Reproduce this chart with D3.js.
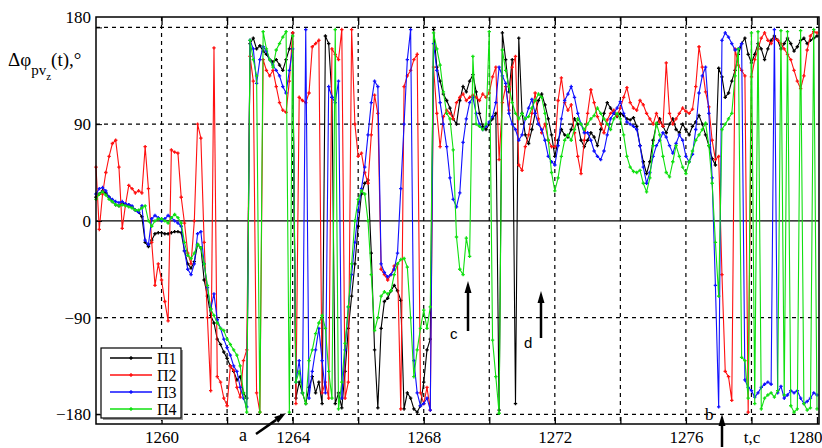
<!DOCTYPE html>
<html>
<head>
<meta charset="utf-8">
<script src="https://cdnjs.cloudflare.com/ajax/libs/d3/7.8.5/d3.min.js"></script>
<style>
  body { margin: 0; background: #fff; }
  svg { display: block; }
  .serif { font-family: "Liberation Serif", "DejaVu Serif", serif; }
  .sans { font-family: "Liberation Sans", Arial, sans-serif; }
</style>
</head>
<body>
<svg width="822" height="448"></svg>
<script>
// time axis: one sample every 0.1 s starting at 1258
const tStart = 1258, tStep = 0.1;

// П1 (black)
const p1 = [
  22, 25, 28, 26, 22, 18, 15, 14, 16, 15,
  15, 13, 10, 8, 4, -20, -24, -18, -12, -11,
  -11, -12, -12, -11, -10, -10, -11, -28, -40, -44,
  -38, -22, -25, -55, -70, -88, -95, -110, -115, -122,
  -128, -135, -140, -148, -145, -160, -165, 165, 170, 160,
  163, 158, 155, 150, 148, 150, 145, 140, 150, 160,
  175, -165, -150, -160, -170, -155, -145, -160, -150, -170,
  172, 165, 115, -170, -160, -174, -140, -100, -70, -40,
  -5, 25, 35, 38, -30, -120, -174, -100, -75, -72,
  -65, -60, -65, -74, -175, -160, -165, -175, -178, -172,
  -150, -120, -110, 178, 143, 130, 118, 112, 105, 95,
  90, 112, 125, 120, 130, 136, 120, 100, 88, 85,
  90, 95, 100, -176, 175, 150, 120, 150, -170, 170,
  100, 80, 72, 85, 100, 112, 118, 108, 95, 80,
  60, 75, 85, 80, 78, 85, 95, 90, 75, 69,
  75, 82, 78, 70, 85, 100, 110, 105, 100, 97,
  100, 98, 95, 94, 96, 88, 70, 55, 44, 55,
  75, 90, 95, 88, 82, 90, 95, 85, 82, 90,
  85, 80, 88, 92, 98, 90, 80, 70, 58, 52,
  142, 134, 115, 119, 130, 140, 155, 165, 170, 155,
  147, 155, 165, 160, 150, 160, 168, 172, 168, 160,
  165, 170, 165, 158, 162, 168, 170, 165, 168, 170,
  172
];

// П2 (red)
const p2 = [
  50, -8, 25, 45, 60, 72, 75, 50, -7, 15,
  33, 30, 26, 28, 26, 69, 30, -20, -60, -40,
  -55, -75, -93, 66, 64, 63, 22, -2, -30, -40,
  0, 90, 77, -20, -90, -158, 161, -145, -150, -165,
  -172, -135, -139, -155, -164, -130, -120, 153, 130, -160,
  -178, 150, 140, 135, 140, 125, 110, 103, 101, 130,
  175, -170, 115, 112, 110, 119, 162, 165, 168, -160,
  -150, -165, 160, 155, 150, 178, -165, -150, 178, 90,
  60, 63, 45, 35, 80, 117, 100, -45, -50, -55,
  -50, -42, -40, -175, 125, 135, 140, 150, 155, -160,
  -170, -155, -176, 143, 100, 69, 97, 103, 100, 95,
  110, 115, 118, 112, 115, 117, 115, 112, 118, 115,
  119, 134, 143, 57, 110, 125, 103, 143, 153, 52,
  47, 69, 80, 100, 119, 95, 82, 90, 75, 69,
  69, 112, 133, 110, 103, 108, 82, 60, 44, 75,
  100, 122, 110, 97, 90, 82, 94, 100, 103, 98,
  105, 115, 124, 110, 105, 103, 112, 108, 100, 95,
  90, 100, 92, 88, 147, 100, 90, 95, 100, 105,
  102, 100, 104, 125, 162, 143, 120, 106, 75, 57,
  60, -50, -140, -145, -167, 160, 145, 140, 135, -178,
  134, 150, 160, 170, 175, 168, 165, 170, 168, 165,
  160, 155, 150, 140, 130, 123, 135, 159, 172, 176,
  175
];

// П3 (blue)
const p3 = [
  25, 30, 31, 28, 22, 20, 18, 17, 18, 16,
  15, 14, 10, 8, 14, -18, -22, 2, 5, 3,
  0, 2, 5, 3, 0, -2, -5, -28, -45, -50,
  -40, -12, -10, -40, -62, -82, -68, -92, -100, -110,
  -118, -125, -135, -140, -155, -165, -173, 168, 160, 128,
  150, 162, 158, 150, 145, 140, 135, 125, 119, 140,
  160, -150, -130, -160, 178, -165, -140, -120, -100, -130,
  -160, 125, 115, 110, 130, -165, -120, -80, -50, -20,
  10, 30, 50, 80, 110, 130, 125, -40, -48, -52,
  -50, -45, -30, 30, 90, 150, 178, -130, -160, -172,
  -170, -165, -176, 165, 140, 110, 90, 69, 40, 20,
  13, 26, 73, 95, 110, 115, 100, 90, 85, 88,
  92, 97, 110, 143, 135, 128, 100, 90, 85, 75,
  80, 95, 105, 113, 100, 90, 85, 75, 60, 55,
  52, 70, 95, 112, 118, 125, 115, 100, 90, 82,
  82, 75, 65, 60, 57, 65, 80, 95, 100, 105,
  111, 100, 92, 90, 88, 85, 70, 50, 35, 45,
  60, 70, 75, 82, 78, 70, 63, 72, 80, 75,
  60, 55, 62, 85, 119, 135, 143, 100, 40, -60,
  -173, 168, 175, 171, 165, 159, 160, 165, -148, -155,
  -158, -164, -160, -155, -152, -150, -152, 178, -160, -154,
  -165, -162, -158, -160, -158, -165, -170, -168, -165, -160,
  -162
];

// П4 (green)
const p4 = [
  20, 25, 27, 24, 20, 18, 15, 14, 15, 14,
  13, 12, 10, 10, 12, 14, 0, -5, 0, 2,
  2, 0, -2, 3, 6, 3, -2, -20, -32, -35,
  -30, -22, -25, -40, -60, -82, -88, -95, -100, -102,
  -110, -115, -120, -125, -135, -160, -178, 168, 150, 135,
  -178, 176, 160, 150, 143, 159, 165, 171, 176, -178,
  172, -150, -140, -160, -170, -130, -120, -105, -95, -88,
  -100, -140, -165, 178, -175, -150, -114, -80, -40, 0,
  20, 28, 25, 0, -50, -102, -90, -70, -66, -68,
  -65, -50, -40, -36, -35, -43, -90, -145, -120, -100,
  -83, -100, -80, 175, 160, 145, 120, 100, 95, 66,
  -15, -45, -50, -16, -33, 153, 90, 88, 85, 90,
  176, -111, -145, -179, 159, 140, 125, 110, 100, 95,
  100, 95, 97, 105, 112, 118, 115, 100, 75, 45,
  28, 40, 60, 75, 80, 75, 85, 95, 90, 85,
  90, 95, 98, 105, 100, 95, 90, 85, 95, 100,
  95, 80, 60, 50, 46, 45, 47, 35, 27, 40,
  70, 91, 80, 60, 45, 41, 55, 70, 60, 50,
  44, 55, 65, 75, 80, 85, 91, 70, 35, -20,
  -70, 85, 90, 95, 100, 135, 160, -127, -130, -165,
  175, -170, 176, -175, -165, -162, -160, -164, -158, 177,
  -162, 176, -172, -178, -175, 177, -170, -176, -174, 178,
  -175
];

const seriesNames = ["П1", "П2", "П3", "П4"];
const seriesValues = [p1, p2, p3, p4];
const colours = ["#000000", "#ff1010", "#1010ff", "#10e010"];

const xGrid = [1260, 1262, 1264, 1266, 1268, 1270, 1272, 1274, 1276, 1278, 1280];
const xLabels = {1260: "1260", 1264: "1264", 1268: "1268", 1272: "1272", 1276: "1276", 1278: "t,c", 1280: "1280"};
const yTicks = [-180, -90, 0, 90, 180];

const svg = d3.select("svg");
const plotL = 96, plotR = 819, plotT = 17, plotB = 424;

let x = d3.scaleLinear().domain([1258, 1280]).range([plotL, 817]);
let y = d3.scaleLinear().domain([-189, 189.7]).range([plotB, plotT]);

// grid
svg.append("g").selectAll("line")
  .data(xGrid.slice(0, -1))
  .enter().append("line")
  .attr("x1", d => x(d)).attr("x2", d => x(d))
  .attr("y1", plotT).attr("y2", plotB)
  .attr("stroke", "#000").attr("stroke-width", 1.2)
  .attr("stroke-dasharray", "4,4");

svg.append("g").selectAll("line")
  .data(yTicks)
  .enter().append("line")
  .attr("x1", plotL).attr("x2", plotR)
  .attr("y1", d => y(d)).attr("y2", d => y(d))
  .attr("stroke", "#000")
  .attr("stroke-width", 1.2)
  .attr("stroke-dasharray", d => d === 0 ? null : "4,4");

// data
let line = d3.line()
  .x((d, i) => x(tStart + i * tStep))
  .y(d => y(d));

const plusMark = "M-1.7,0H1.7M0,-1.7V1.7";

seriesValues.forEach((vals, k) => {
  let g = svg.append("g");
  g.append("path")
    .datum(vals)
    .attr("d", line)
    .attr("fill", "none")
    .attr("stroke", colours[k])
    .attr("stroke-width", 1.1);
  g.selectAll("path.m")
    .data(vals)
    .enter().append("path")
    .attr("class", "m")
    .attr("d", plusMark)
    .attr("transform", (d, i) => `translate(${x(tStart + i * tStep)},${y(d)})`)
    .attr("stroke", colours[k])
    .attr("stroke-width", 1.3);
});

// frame
svg.append("rect")
  .attr("x", plotL).attr("y", plotT)
  .attr("width", plotR - plotL).attr("height", plotB - plotT)
  .attr("fill", "none").attr("stroke", "#000").attr("stroke-width", 1.5);

// axes
let xAxis = d3.axisBottom(x)
  .tickValues(xGrid)
  .tickSizeInner(-7).tickSizeOuter(0).tickPadding(7)
  .tickFormat(d => xLabels[d] || "");
let gx = svg.append("g").attr("transform", `translate(0,${plotB})`).call(xAxis);
gx.attr("font-family", null).attr("font-size", null);
gx.select(".domain").remove();
gx.selectAll("line").attr("stroke-width", 1.3);
gx.selectAll("text").attr("class", "serif").style("font-size", "17px").attr("fill", "#000");
gx.selectAll(".tick").filter(d => d === 1280).select("text")
  .attr("text-anchor", "end").attr("x", 822 - x(1280));

let xAxisTop = d3.axisTop(x).tickValues(xGrid).tickSizeInner(-8).tickSizeOuter(0).tickFormat("");
let gxt = svg.append("g").attr("transform", `translate(0,${plotT})`).call(xAxisTop);
gxt.select(".domain").remove();
gxt.selectAll("line").attr("stroke-width", 1.3);

let yAxis = d3.axisLeft(y)
  .tickValues(yTicks)
  .tickSizeInner(-6).tickSizeOuter(0).tickPadding(5)
  .tickFormat(d3.format("d"));
let gy = svg.append("g").attr("transform", `translate(${plotL},0)`).call(yAxis);
gy.attr("font-family", null).attr("font-size", null);
gy.select(".domain").remove();
gy.selectAll("text").attr("class", "serif").style("font-size", "17px").attr("fill", "#000");
gy.selectAll(".tick").filter(d => d === 180).select("text").attr("y", plotT - y(180));

// y title
let yt = svg.append("text")
  .attr("class", "serif")
  .attr("x", 8).attr("y", 66)
  .style("font-size", "19px").attr("fill", "#000");
yt.append("tspan").text("Δφ");
yt.append("tspan").style("font-size", "15px").attr("dy", 9).text("pv");
yt.append("tspan").style("font-size", "11px").attr("dy", 5).text("z");
yt.append("tspan").style("font-size", "19px").attr("dy", -14).text("(t),°");

// legend
let lg = svg.append("g").attr("transform", "translate(101,348)");
lg.append("rect").attr("x", 2).attr("y", 2).attr("width", 80).attr("height", 70).attr("fill", "#999");
lg.append("rect").attr("width", 80).attr("height", 70).attr("fill", "#fff").attr("stroke", "#000").attr("stroke-width", 1.2);
seriesNames.forEach((nm, k) => {
  let row = lg.append("g").attr("transform", `translate(0,${10 + k * 17})`);
  row.append("line").attr("x1", 9).attr("x2", 51)
    .attr("stroke", colours[k]).attr("stroke-width", 1.3);
  row.append("path").attr("d", plusMark).attr("transform", "translate(30,0)")
    .attr("stroke", colours[k]).attr("stroke-width", 1.6);
  row.append("text").attr("class", "serif").attr("x", 56).attr("y", 6)
    .style("font-size", "16px").attr("fill", "#000")
    .text(nm);
});

// annotations
function arrow(x1, y1, x2, y2) {
  let a = Math.atan2(y2 - y1, x2 - x1);
  let len = 12, half = 3.5;
  let bx = x2 - len * Math.cos(a), by = y2 - len * Math.sin(a);
  svg.append("line").attr("x1", x1).attr("y1", y1).attr("x2", bx).attr("y2", by)
    .attr("stroke", "#000").attr("stroke-width", 2.5);
  let pts = [[x2, y2],
    [bx + half * Math.sin(a), by - half * Math.cos(a)],
    [bx - half * Math.sin(a), by + half * Math.cos(a)]];
  svg.append("polygon").attr("points", pts.map(p => p.join(",")).join(" ")).attr("fill", "#000");
}
function note(txt, px, py, cls, size) {
  svg.append("text").attr("class", cls).attr("x", px).attr("y", py)
    .style("font-size", size + "px").attr("fill", "#000").text(txt);
}
note("a", 239, 441, "serif", 18);
arrow(256, 434, 286, 413);
note("b", 705, 420, "serif", 17);
arrow(722, 447, 722, 414);
note("c", 450, 339, "sans", 15);
arrow(468, 331, 468, 281);
note("d", 524, 348, "sans", 15);
arrow(541, 338, 541, 291);
</script>
</body>
</html>
